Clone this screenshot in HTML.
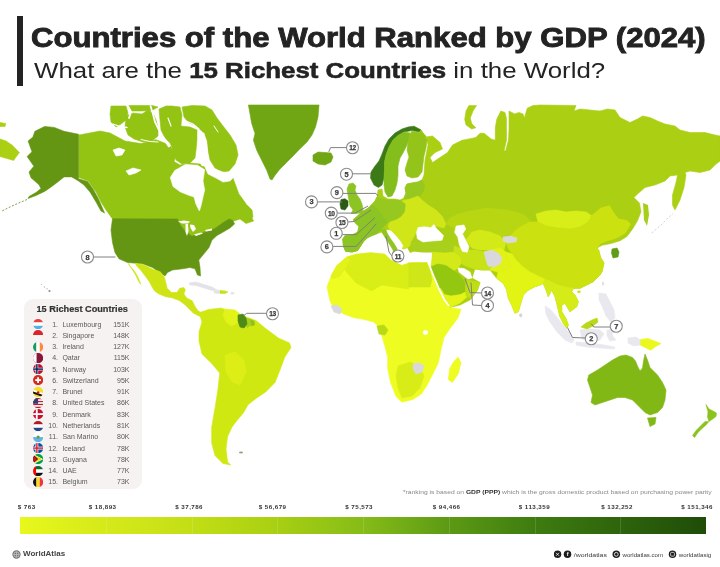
<!DOCTYPE html>
<html><head><meta charset="utf-8">
<style>
html,body{margin:0;padding:0}
body{width:720px;height:567px;overflow:hidden;background:#fff;position:relative;font-family:"Liberation Sans",Arial,sans-serif;color:#222}
.abs{position:absolute}
#vbar{left:17px;top:16px;width:5.5px;height:70px;background:#232323}
#t1{left:31px;top:20.5px;transform:scaleX(1.111);transform-origin:0 0;font-size:28px;font-weight:bold;white-space:nowrap;line-height:34px;color:#232323;-webkit-text-stroke:0.9px #232323;letter-spacing:0px}
#t2{left:34px;top:58.3px;transform:scaleX(1.1746);transform-origin:0 0;font-size:22px;white-space:nowrap;line-height:26px;color:#232323}
#t2 b{-webkit-text-stroke:0.55px #232323}
#map{left:0;top:0}
#legend{left:23.5px;top:298.5px;width:118px;height:190px;background:#f5f2f1;border-radius:9px}
#legend .hd{position:absolute;left:13px;top:5.7px;font-size:9.2px;font-weight:bold;color:#333;-webkit-text-stroke:0.2px #333;white-space:nowrap}
#legend .row{position:absolute;left:0;width:117px;height:11px;font-size:7px;color:#5a5a5a;line-height:11px}
#legend .row .n{position:absolute;left:23.5px;width:11px;text-align:right}
#legend .row .c{position:absolute;left:38.9px}
#legend .row .v{position:absolute;right:11px}
#legend .row svg{position:absolute;left:9.2px;top:0.6px}
#scale{left:20px;top:517px;width:686px;height:16.5px;background:linear-gradient(90deg,#e8f81c 0%,#d8ec1a 10%,#cde418 19%,#bcdb14 28%,#a9d012 37%,#86bc18 50%,#5c9a14 62.5%,#3e7c10 75%,#2e640c 87.5%,#1f4c08 100%)}
.lab{position:absolute;top:503px;font-size:6.2px;font-weight:bold;color:#333;white-space:nowrap;letter-spacing:0.45px}
#note{left:402.5px;top:488px;font-size:6.2px;transform:scaleX(1.088);transform-origin:0 0;color:#888;white-space:nowrap}
#note b{color:#333}
#wa{left:12px;top:548.5px;font-size:8px;font-weight:bold;color:#444;white-space:nowrap}
#soc{left:554px;top:549.5px;width:160px;height:9px}
</style></head><body>
<svg id="map" class="abs" width="720" height="567" viewBox="0 0 720 567">
<!-- MAP -->
<g stroke-width="0.6" stroke-linejoin="round"><path fill="#93c414" stroke="#93c414" d="M79,135 100,131 110,133 125,141 141,143.6 156,139.7 169,144.8 176.7,153.8 174,161.5 180,165 190,163 200,164 206,168 212,174 220,176 228,176 233,178 238.8,193.8 246,203.7 248.6,211 253.6,221 246,223.5 240,219 234,221 230,219.5 226,221 220,225 214,229 208,231 200,234 192,236 186,232 181,226 177.5,219 112.5,219 106,210 101,202 96,192 88,181 79,177.5Z"/>
<path fill="#93c414" stroke="#93c414" d="M241,208 247,205 252,210 253,217 248,219 243,214Z"/>
<path fill="#93c414" stroke="#93c414" d="M111,106 126,106 128,113 126,120 121,124 116,127 111,122 110,114Z"/>
<path fill="#93c414" stroke="#93c414" d="M126,116 133,113 142,114 148,110 153,113 156,120 158,128 158,136 152,141 143,142 134,139 128,135 125,127Z"/>
<path fill="#93c414" stroke="#93c414" d="M128,105.5 140,105.5 152,105.5 158,107 152,110.5 142,111 132,111Z"/>
<path fill="#93c414" stroke="#93c414" d="M159,109 166,106 172,106 180,107 182,115 181,125 183,135 182,145 178,151 173,149 170,143 165,138 161,130 160,120Z"/>
<path fill="#93c414" stroke="#93c414" d="M172,128 180,126 190,127 197,130 197,140 196,150 195,158 190,163 182,164 176,160 173,150 170,140Z"/>
<path fill="#93c414" stroke="#93c414" d="M182,107 192,105.5 205,106 212,110 217,118 223,126 230,135 236,145 238,155 235,164 229,171 222,172 215,168 210,160 208,150 207,140 203,132 196,126 188,122 184,117Z"/>
<path fill="#ffffff" stroke="#ffffff" d="M174.7,170.6 185.3,164.4 197.6,165.3 204.7,169.7 203,181 204.7,190 203,197 201,205.8 199.4,211 195.9,204 194,197 188.8,195.3 180,191.7 173,186.4 170.3,177.6Z"/>
<path fill="#ffffff" stroke="#ffffff" d="M205,167 212,168 220,171 228,174 233,178 230,181 223,182 216,178 208,174Z"/>
<path fill="#ffffff" stroke="#ffffff" d="M198,133 204,133 207,145 208,158 206,165 202,166 199,158 198,145Z"/>
<path fill="#ffffff" stroke="#ffffff" d="M113,150 119,148 125,150 122,155 116,156Z"/>
<path fill="#ffffff" stroke="#ffffff" d="M126,171 133,168 141,170 136,173 129,175Z"/>
<path fill="#649614" stroke="#649614" d="M34.9,131.3 44.6,126.5 54.3,127.4 64,131.3 78.5,134.2 78.5,178.8 87.5,181.5 93,189 98,198 102,207 104.5,213 101,211 96,202 90,192 84,185 78.5,181 71.7,176.9 64,176.9 58.1,181.7 50.4,187.5 44.6,191.4 36,195.5 28,198.5 29,196.5 36,192.5 41,188.5 38.8,184.6 31,177.8 29,172 33.9,166.2 27.1,156.5 32,151.7 28.1,141 32.9,137.1Z"/>
<path fill="#649614" stroke="#649614" d="M112.5,218.8 177.5,219 181,226 186,232 192,236 200,234 208,231 214,229 219,225.5 224,222 229,219 233,220.5 234.5,224 230,228 224,231.5 217,235.5 212,240 209,247.5 205,252.5 198.8,260 200,267.5 200.5,276 197.5,275 195,268.8 190,267.5 182.5,268.8 172.5,270 167.5,272.5 165,276 160,272.5 152.5,267.5 142.5,263.8 127.5,262.5 119,258.8 115,252.5 112.5,242.5 111,230Z"/>
<path fill="#cfe414" stroke="#cfe414" d="M135.3,263.3 143.6,264.7 152,268.9 156,270.3 160.3,271.7 164.4,277.2 165.8,282.8 167.2,288.3 171.4,292.5 177,292.5 179.7,288.3 183.9,287.6 185.3,289.7 183.9,293.9 186.7,298 192.2,300.8 195,306.4 197.8,310.6 202,313.3 206,314.7 204.7,316.8 199.2,316.1 193.6,313.3 189.4,309.2 185.3,305 179.7,300.8 172.8,298 165.8,296.7 158.9,293.9 154.7,291.1 152,287 149.2,281.4 145,275.8 140.8,270.3 136.7,266.1Z"/>
<path fill="#cfe414" stroke="#cfe414" d="M128.3,263.3 131,267.5 135.3,274.4 139.4,282.8 140.8,284.2 138,277.2 133.9,270.3 129.7,266.1Z"/>
<path fill="#e2e2e8" stroke="#e2e2e8" d="M189,283 196,282 204,284.5 212,287 217,290 212,290.5 204,288 196,285.5 190,285Z"/>
<path fill="#e2e2e8" stroke="#e2e2e8" d="M214,291 218,290 220,291 219,293.5 214,293Z"/>
<path fill="#c8e018" stroke="#c8e018" d="M220,290.5 225,291 228,292 225,293.5 220,293.5Z"/>
<path fill="#e2e2e8" stroke="#e2e2e8" d="M231,292.5 234,292.5 234,294 231,294Z"/>
<path fill="#70a614" stroke="#70a614" d="M248.4,105 319,105 318,117 315.5,127 312,135 307,142 300,148.7 293.6,155.4 287,162 280,169 274.5,176 272,180 270,179 266.8,170.5 261.8,160.4 256.8,150.4 253.4,140.3 255,133.6 251.7,123.5Z"/>
<path fill="#70a614" stroke="#70a614" d="M313,155 318,152 325,152.5 331,153 333,157 331,162 325,165 318,164 313,161Z"/>
<path fill="#d0e812" stroke="#d0e812" d="M199,312.7 208.6,309.5 221,308 234,312.7 243.5,316 256,320.6 265.7,328.6 278.4,338 289.5,342.9 291,347.6 284.8,357 280,370 275,382.5 265.7,392 256,398.4 248,404.8 243.5,412.7 237,420.6 232,427 227.6,436.5 226,449 227.6,462 230.8,465 222.9,463.5 215,455.6 211.7,443 211.7,427 215,408 218,389 219.7,373 211.7,363.5 202,354 199,341 199,331.7 202,322Z"/>
<path fill="#e2f31a" stroke="#e2f31a" d="M225,309 235,310 240,314 238,322 232,326 226,322 223,315Z"/>
<path fill="#dcee16" stroke="#dcee16" d="M225,355 235,352 244,360 246,372 240,385 232,382 226,372Z"/>
<path fill="#a8d018" stroke="#a8d018" d="M245.5,318 250,319 251,325 247,327.5 245,324Z"/>
<path fill="#8cc21e" stroke="#8cc21e" d="M250.5,319.5 254,321 254.5,325 251.5,326Z"/>
<path fill="#4d8a18" stroke="#4d8a18" d="M238,315 243,314 246,318 247,324 244,328 240,327 238,321Z"/>
<path fill="#abcf13" stroke="#abcf13" d="M413.8,126.2 421,130 422.5,137.5 432.5,136 440,142.5 442.5,149 435,152.5 430,157.5 432.5,162.5 440,157.5 447.5,152.5 452.5,145 462,140.3 468.9,138.9 475.8,137.5 480,133.3 484.2,133.3 491,138.9 495.3,140.3 495.3,127.8 496.7,119.4 500.8,111 505,112.5 506.4,118 506.5,130 506.5,140 504,151 505.5,151 508.5,140 509,130 509,111 514.7,113.9 518.9,112.5 523,113.9 524.4,118 527.2,108.3 532.8,105.6 540,105 576,105.5 574,111 580,109 590,110 600,111 607.5,109 615,110 620,117.5 625,120 630,122.5 637.5,119 642.5,116 650,117.5 657.5,121 665,124 675,126 680,130 690,132.5 697.5,132.5 705,132.5 715,135 720,136 720,161 715,165 710,170 700,172.5 690,171 685,172.5 686,175 684,187.5 680,200 675,210 672.5,205 672.5,195 676,182.5 677.5,175 670,176 665,181 655,185 645,187.5 637.5,194 634,197.6 639.4,203 641,211.7 637.6,220.6 632.3,229.4 627,236.4 620,240.8 611,243.5 602,245.3 597,248 598.8,250.5 600.6,257.6 604,263 602,271.7 600,275 593.3,281.7 586.7,285 580,288.3 573.3,288.3 571.7,291.7 575,295 578.3,301.7 576.7,306.7 570,311.7 565,303.3 561.7,305 561.7,311.7 565.8,318.3 568.3,325 566.7,328.3 563.3,323.3 560,316.7 558.3,310 556.7,303.3 555,296.7 551.7,290 548.3,296.7 546.7,291.7 543.3,283.3 540,285 535,286.7 528.3,290 523.3,295 520.8,303.3 518.3,311.7 515,313.3 511.7,305 508.3,298.3 506.7,290 503.3,283.3 496.7,278.3 490,270 482,270 475,269 472,278 480,282.5 477.5,290 470,300 460,305 450,307.5 445,305 440,295 435,282 431,269 432.5,262 432.5,252 425,252 415,251 410,252.5 407.5,247.5 403,249 401.3,244.9 398.5,240.6 394.2,236.4 390,230.8 385.8,229.4 387.2,233.6 390,239.2 394.2,244.9 397,250.5 395.6,254.8 392.8,253.3 394.2,249.1 391.4,244.9 388.6,240.6 384.4,235 381.5,232.2 377.3,233.6 371.7,235.7 367.4,237.8 363.2,242 360.4,246.3 357.6,250.5 352,252 345.6,251.2 343.5,246.3 342.8,239.2 344.9,235.7 352,235 357.6,232.2 359,226.5 354.7,222.3 353.3,219.5 357.6,216 361.8,211.7 366,209.6 368.9,207.5 371.7,204.7 375,201 377,197 378,190 382,189 383,196 388,199 395,199 400,200 404,198 406,193 405,188 407,184 412,183 418,182 422,180 424,175 425,160 428,145 426,136Z"/>
<path fill="#abcf13" stroke="#abcf13" d="M468.9,105.6 476.5,105.6 473,111 470.3,118 471.7,123.6 475.8,127.8 471.7,129 466,125 464.7,119.4 466,111Z"/>
<path fill="#3c7a18" stroke="#3c7a18" d="M413.8,126.2 421,130 419,132 412,130.5 404,132 398,135.5 393,140 389,147 386,155 384.5,162 384.5,170 384,178 382,185 378.5,187.5 374,185 370.5,178 371,172 375,166 379,161 382,154 385,146 389,139 395,133 402,129 408,127Z"/>
<path fill="#84be1c" stroke="#84be1c" d="M384.5,162 386,155 389,147 393,140 398,135.5 404,132 410,133 409,140 406,147 403,153 400,158 398,166 398,175 397,183 395,190 392,196 388,197 385,192 384,185 384,178 384.5,170Z"/>
<path fill="#94c41a" stroke="#94c41a" d="M410,134 412,131 419,132.5 421,130 424,134 427,140 426,148 424,156 423,164 422,172 418,177 412,178 407,176 405,170 407,163 409,157 407,150 408,142Z"/>
<path fill="#8cc424" stroke="#8cc424" d="M349,184 353,183 356,186 355,190 357,195 360,199 362,204 363,209 362,212.5 357,213.5 351,213.5 353,210 350,206 349,201 348,195 347,189Z"/>
<path fill="#2b5a14" stroke="#2b5a14" d="M341,199.5 345,198.8 348,201 348,206 345,210 341,209 340,204Z"/>
<path fill="#96c820" stroke="#96c820" d="M404,198 406,193 405,188 407,184 412,183 418,182 422,180 425,186 423,192 419,197 410,200Z"/>
<path fill="#96c820" stroke="#96c820" d="M375,201 377,197 382,199 388,200 395,200 402,201 406,204 405,212 401,217 396,220 390,222 384,222 378,216 372,210 371.7,204.7Z"/>
<path fill="#8cc424" stroke="#8cc424" d="M371.7,204.7 378,210 384,218 388,222 384,226 381.5,229 377.3,233.6 371.7,235.7 367.4,237.8 363.2,242 360.4,246.3 357.6,250.5 352,252 345.6,251.2 343.5,246.3 342.8,239.2 344.9,235.7 352,235 357.6,232.2 359,226.5 354.7,222.3 353.3,219.5 357.6,216 361.8,211.7 366,209.6 368.9,207.5Z"/>
<path fill="#8cc424" stroke="#8cc424" d="M344.9,236.5 352,236 358,236 362,238 363.2,242 360.4,246.3 357.6,250.5 352,252 345.6,251.2 343.5,246.3 342.8,239.2Z"/>
<path fill="#d0e618" stroke="#d0e618" d="M402,201 410,199 418,196 422,200 428,205 436,210 442,216 446,224 444,228 436,226 428,227 420,228 416,233 412,240 410,246 407.5,247.5 403,249 401.3,244.9 398.5,240.6 394.2,236.4 390,230.8 388,226 390,222 396,220 401,217 405,212 406,204Z"/>
<path fill="#a8d01c" stroke="#a8d01c" d="M411.7,241 420,240.5 428,241.5 436,241 444,240 450,242 454,246 453.7,252 445,253 436,252 428,252 420,252 414,251 410.5,247Z"/>
<path fill="#ffffff" stroke="#ffffff" d="M387.5,230 391,231 396,236 400,241 403,246 401.5,248.5 397,244.5 392,238.5 388,233.5Z"/>
<path fill="#90c420" stroke="#90c420" d="M381.5,230 385,229 387,233 390,238 394,243.5 397,248.5 396.5,253 394,254 393,250 390,245 386,239 383,234Z"/>
<path fill="#d4ea18" stroke="#d4ea18" d="M432.5,252 445,253 454,252 460,256 462,262 458,268 453.7,270.7 445.7,265.4 437.8,264 431,266.8 432,258Z"/>
<path fill="#c8e218" stroke="#c8e218" d="M454,246 460,248 468,250 476,250 484,252 490,258 492,266 490,270 482,270 475,269 468,267 462,264 460,256 454,252Z"/>
<path fill="#94c810" stroke="#94c810" d="M431,266.8 437.8,264 445.7,265.4 453.7,270.7 459,274.7 463,280 465.6,285.3 465.6,292 460.3,294.6 451,296 444.4,294.6 440.4,288 436.5,278.7 432.5,272Z"/>
<path fill="#e4f418" stroke="#e4f418" d="M440.4,288 444.4,294.6 451,296 460.3,294.6 465.6,292 468,296 460,303 450,307.5 445,305 441,296Z"/>
<path fill="#c0de14" stroke="#c0de14" d="M465.6,285.3 467,280 472,281 480,282.5 477.5,290 471,298 466,296 465.6,292Z"/>
<path fill="#b8d612" stroke="#b8d612" d="M446,224 450,218 458,214 466,212 476,210 486,208 496,209 506,210 516,212 524,215 530,220 528,228 520,232 512,234 504,236 496,238 490,242 484,244 476,246 470,246 466,240 460,232 454,228Z"/>
<path fill="#d4ea18" stroke="#d4ea18" d="M466,240 472,232 480,230 490,232 500,236 506,242 504,250 496,252 488,250 480,250 472,248Z"/>
<path fill="#e0f218" stroke="#e0f218" d="M484,252 492,250 500,248 506,252 508,260 512,266 505,270 498,272 490,270 492,266 490,258Z"/>
<path fill="#d8ee18" stroke="#d8ee18" d="M536,214 546,211 556,210 566,212 576,211 586,212 592,216 588,222 580,227 570,229 558,228 546,226 538,222Z"/>
<path fill="#cce210" stroke="#cce210" d="M516,230 522,226 530,222 538,222 546,226 558,228 570,229 580,227 588,222 592,216 590,217 600.6,208.2 609.4,205.6 613,211.7 618.2,218.8 627,220.6 630.6,224 625.3,233 616.5,238 607.6,240.8 600.6,243.5 597,248 598.8,250.5 600.6,257.6 604,263 602,271.7 600,275 593.3,281.7 586.7,285 580,288.3 573.3,288.3 566,287 558,285 552,282 545,279 538,276 530,272 522,266 516,260 512,254 508,248 506,242 510,236Z"/>
<path fill="#e2f414" stroke="#e2f414" d="M506,252 512,254 516,260 522,266 530,272 538,276 545,279 543.3,283.3 540,285 535,286.7 528.3,290 523.3,295 520.8,303.3 518.3,311.7 515,313.3 511.7,305 508.3,298.3 506.7,290 503.3,283.3 496.7,278.3 498,272 505,270 512,266 508,260Z"/>
<path fill="#d6ec18" stroke="#d6ec18" d="M545,279 552,282 558,285 566,287 573.3,288.3 571.7,291.7 575,295 578.3,301.7 576.7,306.7 570,311.7 565,303.3 561.7,305 561.7,311.7 565.8,318.3 568.3,325 566.7,328.3 563.3,323.3 560,316.7 558.3,310 556.7,303.3 555,296.7 551.7,290 548.3,296.7 546.7,291.7 543.3,283.3Z"/>
<path fill="#d9d9dd" stroke="#d9d9dd" d="M484,252 492,250 498,253 502,258 500,264 494,267 488,266 486,260Z"/>
<path fill="#d9d9dd" stroke="#d9d9dd" d="M503,237 510,236 517,238 516,242 508,243 503,241Z"/>
<path fill="#5e9c1a" stroke="#5e9c1a" d="M612,249 617,248 619,252 618,257 613,258 611.5,253Z"/>
<path fill="#ffffff" stroke="#ffffff" d="M418,227.6 424.4,226.8 430.8,227.6 434,224.5 436,228 438.7,230.8 443.5,235.5 442,240.3 432.4,241 422.9,242 417.3,238.7 416.5,232.4Z"/>
<path fill="#ffffff" stroke="#ffffff" d="M456.2,226 464,225 465.7,229 462.5,234 465.7,240.3 469,246.7 467.3,252.2 462.5,251.4 459.4,245 457.8,237 454.6,232.4Z"/>
<path fill="#ffffff" stroke="#ffffff" d="M458,268 464,268.5 470,272 472,278 468,279 464,276 459,272Z"/>
<path fill="#eefc21" stroke="#eefc21" d="M346.8,257 356.7,254.2 370.7,252.8 384.8,254.2 390.5,259.9 401.8,265.5 413,262.7 427,262.7 432.8,275.4 438.4,289.5 444,300.7 449.7,307.8 461,309.2 458.1,317.7 449.7,329 444,337.4 441.2,348.7 438.4,362.8 432.8,374 427,385.3 421.5,393.8 413,399.4 401.8,402.2 396.1,396.6 390.5,382.5 387.7,368.4 387.7,357.1 384.8,345.9 380.6,331.8 377.8,326.1 373.6,321.9 362.3,319.1 353.8,317.7 342.6,313.4 334.1,309.2 329.9,300.7 327,286.7 331.3,275.4 336.9,265.5Z"/>
<path fill="#d9ee16" stroke="#d9ee16" d="M346.8,257 356.7,254.2 370.7,252.8 384.8,254.2 390.5,259.9 401.8,265.5 408.7,263 408.7,289 395,287 381.4,285 371.7,291 356,283 344.5,269.5Z"/>
<path fill="#cfe618" stroke="#cfe618" d="M408.7,262.7 427,262.7 430,270 432,280 430,287 408.7,287Z"/>
<path fill="#e2f21a" stroke="#e2f21a" d="M336.9,265.5 346.8,257 350,260 344.5,269.5 340,276 332,279 331.3,275.4Z"/>
<path fill="#d8ec18" stroke="#d8ec18" d="M398,366 410,362 420,366 424,376 420,388 412,396 402,398 398,388 396,376Z"/>
<path fill="#b8d818" stroke="#b8d818" d="M377,326 384,325 388,330 385,335 379,334Z"/>
<path fill="#d9d9dd" stroke="#d9d9dd" d="M331,306 337,305 342,309 340,314 334,312Z"/>
<path fill="#d9d9dd" stroke="#d9d9dd" d="M413,364 419,362.8 424,366 422,372 416,374 413,369Z"/>
<path fill="#eefc21" stroke="#eefc21" d="M458.1,357.1 461,362.8 458.1,374 452.5,382.5 448.3,379.7 449.7,368.4 453.9,361.4Z"/>
<path fill="#82b816" stroke="#82b816" d="M588.8,375 597.5,370 605,365 612.5,360 620,356 626,355 632.5,357.5 635.5,361 637.5,366 640,371 642.5,368 643.5,361 645,354 647.5,360 650,367.5 657.5,375 662.5,382.5 666,390 665,400 662.5,407.5 657.5,412.5 650,415 645,412.5 640,407.5 635,402.5 632.5,400 625,397.5 617.5,397.5 610,400 602.5,402.5 595,405 591,402.5 592.5,395 590,387.5 587.5,380Z"/>
<path fill="#82b816" stroke="#82b816" d="M647.5,418 656,417.5 655,424 650,426.5Z"/>
<path fill="#8cc21e" stroke="#8cc21e" d="M706,404.5 709,409 713,411 716.5,413 716,416.5 712,419.5 709,421.5 707.5,417 708,412Z"/>
<path fill="#8cc21e" stroke="#8cc21e" d="M708.8,421.7 706,425 702,428.5 698,432.5 694.5,437.5 692.5,435.5 696.5,430 701,425.5 705,421.5Z"/>
<path fill="#eaf81c" stroke="#eaf81c" d="M640,339.7 648,338.4 654.5,341 661,343.6 656,346.3 650.6,350.3 645.3,347.6 640,345Z"/>
<path fill="#e8e8ee" stroke="#e8e8ee" d="M628,338 636,337 640,339.7 640,345 634,346 628,343Z"/>
<path fill="#e8e8ee" stroke="#e8e8ee" d="M545,306 550,309 556,316 563,325 570,333 574,340 572,343 565,340 557,332 550,322 546,314Z"/>
<path fill="#e8e8ee" stroke="#e8e8ee" d="M576,342 590,343 604,345 615,347 614,349 600,348 586,347 576,345Z"/>
<path fill="#e8e8ee" stroke="#e8e8ee" d="M580,330 590,329 600,330 604,334 600,340 590,342 582,339Z"/>
<path fill="#e8e8ee" stroke="#e8e8ee" d="M607,330 614,329 612,335 616,340 610,341 607,336Z"/>
<path fill="#e8e8ee" stroke="#e8e8ee" d="M599,293 606,294 610,302 614,310 615,318 611,322 606,316 602,306 599,300Z"/>
<path fill="#b8d818" stroke="#b8d818" d="M581,327 586,323 592,320 597,318 598,322 593,326 587,329Z"/>
<path fill="#abcf13" stroke="#abcf13" d="M0,139 6,141 12,145 19.4,152.6 16,157 13.6,160.4 7,158.5 0,156.5Z"/>
<path fill="#abcf13" stroke="#abcf13" d="M0,122.6 5.8,123.5 5,126.5 0,126.5Z"/></g>
<g fill="#fff"><path d="M178,221.5 L184,220.5 L190,221.5 L188,223.5 L182,223.5Z"/><path d="M185.5,224 L188,224 L188.5,231 L187,236 L185.5,232Z"/><path d="M190,224.5 L194,225 L196,229 L193,232 L190.5,228Z"/><path d="M194,234.5 L201,232.5 L203,233.5 L196,236Z"/><path d="M205,230 L212,228.5 L212,230.5 L206,231.5Z"/></g>
<path d="M428.5,263 L434,277 L439.5,290 L444.5,300 L449,306" fill="none" stroke="#fff" stroke-width="1.8"/>
<ellipse cx="425.5" cy="332.5" rx="2.6" ry="2.3" fill="#fff"/>
<g fill="#b8b8c0"><circle cx="41.5" cy="284.5" r="0.6"/><circle cx="44.5" cy="287" r="0.7"/><circle cx="47" cy="288.8" r="0.7"/></g><circle cx="49.5" cy="291" r="1.1" fill="#8a8a90"/>
<ellipse cx="241" cy="452.5" rx="2" ry="1" fill="#9aa080"/>
<ellipse cx="520.7" cy="315.3" rx="1.5" ry="2.1" fill="#d4d4dc"/><ellipse cx="603" cy="283.5" rx="1" ry="2" fill="#dcdce4"/><ellipse cx="579" cy="291.8" rx="1.8" ry="1.3" fill="#cce210"/>
<g fill="none" stroke="#fff" stroke-linecap="round"><path d="M128,106 L131,112 L129,118" stroke-width="1.8"/><path d="M150.5,106 L153,114 L155,122 L159,130" stroke-width="1.8"/><path d="M113,124 L120,126.5 L127,127.5" stroke-width="1.3"/><path d="M160,134 L165,140 L169,146" stroke-width="2.5"/><path d="M141,139.5 L150,141.5 L158,142" stroke-width="1"/><path d="M168,118 L171,126" stroke-width="1.2"/><path d="M186,121 L193,124 L199,129" stroke-width="1.2"/><path d="M214,126 L218,132" stroke-width="1"/></g>
<path d="M27,199.5 L20,202.5 L12,206 L2,211" fill="none" stroke="#7f9f55" stroke-width="1" stroke-dasharray="2 1.6"/>
<path d="M651.7,233 L660,226 L667,219 L673,213.5" fill="none" stroke="#d0d0d8" stroke-width="1" stroke-dasharray="2 2"/>
<path d="M643,203 L648,205 L649,215 L647,226 L644,220Z" fill="#a7cf19"/>
<path d="M93.5,257 115.5,257" fill="none" stroke="#808080" stroke-width="1"/>
<path d="M346.9,147.6 330.6,147.6 328.75,151.9" fill="none" stroke="#808080" stroke-width="1"/>
<path d="M352.5,173.8 371,173.8" fill="none" stroke="#808080" stroke-width="1"/>
<path d="M342.8,193.4 376,193.4 378,196" fill="none" stroke="#808080" stroke-width="1"/>
<path d="M317.5,201.9 342,201.9" fill="none" stroke="#808080" stroke-width="1"/>
<path d="M337.3,213.1 355,213.1 368,206" fill="none" stroke="#808080" stroke-width="1"/>
<path d="M347.9,222 354,221.5 371,210" fill="none" stroke="#808080" stroke-width="1"/>
<path d="M342.2,234.6 356.25,234.6 375,217.5" fill="none" stroke="#808080" stroke-width="1"/>
<path d="M332.9,246.4 356.25,246.4 376.25,223.75" fill="none" stroke="#808080" stroke-width="1"/>
<path d="M391.9,256 389,252 386,236" fill="none" stroke="#808080" stroke-width="1"/>
<path d="M266.5,313.3 246.7,313.3 244,315.4" fill="none" stroke="#808080" stroke-width="1"/>
<path d="M481.5,293 470,292.5 465,278.75" fill="none" stroke="#808080" stroke-width="1"/>
<path d="M481.5,305.5 472.5,305 471,282.5" fill="none" stroke="#808080" stroke-width="1"/>
<path d="M610.2,327 593.75,327 591.25,323.75" fill="none" stroke="#808080" stroke-width="1"/>
<path d="M585.2,338 572.5,337.5 567.5,327.5" fill="none" stroke="#808080" stroke-width="1"/>
<circle cx="87.5" cy="257" r="6" fill="#fff" stroke="#8c8c8c" stroke-width="1.1"/>
<text x="87.5" y="259.5" text-anchor="middle" font-family="Liberation Sans, sans-serif" font-weight="bold" font-size="7.4" letter-spacing="0" fill="#3a3a3a" stroke="#3a3a3a" stroke-width="0.25">8</text>
<circle cx="352.5" cy="147.75" r="6" fill="#fff" stroke="#8c8c8c" stroke-width="1.1"/>
<text x="352.5" y="150.25" text-anchor="middle" font-family="Liberation Sans, sans-serif" font-weight="bold" font-size="6.6" letter-spacing="-0.4" fill="#3a3a3a" stroke="#3a3a3a" stroke-width="0.25">12</text>
<circle cx="346.5" cy="174.2" r="6" fill="#fff" stroke="#8c8c8c" stroke-width="1.1"/>
<text x="346.5" y="176.7" text-anchor="middle" font-family="Liberation Sans, sans-serif" font-weight="bold" font-size="7.4" letter-spacing="0" fill="#3a3a3a" stroke="#3a3a3a" stroke-width="0.25">5</text>
<circle cx="336.9" cy="192.6" r="6" fill="#fff" stroke="#8c8c8c" stroke-width="1.1"/>
<text x="336.9" y="195.1" text-anchor="middle" font-family="Liberation Sans, sans-serif" font-weight="bold" font-size="7.4" letter-spacing="0" fill="#3a3a3a" stroke="#3a3a3a" stroke-width="0.25">9</text>
<circle cx="311.5" cy="201.9" r="6" fill="#fff" stroke="#8c8c8c" stroke-width="1.1"/>
<text x="311.5" y="204.4" text-anchor="middle" font-family="Liberation Sans, sans-serif" font-weight="bold" font-size="7.4" letter-spacing="0" fill="#3a3a3a" stroke="#3a3a3a" stroke-width="0.25">3</text>
<circle cx="331.25" cy="213.1" r="6" fill="#fff" stroke="#8c8c8c" stroke-width="1.1"/>
<text x="331.25" y="215.6" text-anchor="middle" font-family="Liberation Sans, sans-serif" font-weight="bold" font-size="6.6" letter-spacing="-0.4" fill="#3a3a3a" stroke="#3a3a3a" stroke-width="0.25">10</text>
<circle cx="341.9" cy="222.5" r="6" fill="#fff" stroke="#8c8c8c" stroke-width="1.1"/>
<text x="341.9" y="225.0" text-anchor="middle" font-family="Liberation Sans, sans-serif" font-weight="bold" font-size="6.6" letter-spacing="-0.4" fill="#3a3a3a" stroke="#3a3a3a" stroke-width="0.25">15</text>
<circle cx="336.25" cy="233.3" r="6" fill="#fff" stroke="#8c8c8c" stroke-width="1.1"/>
<text x="336.25" y="235.8" text-anchor="middle" font-family="Liberation Sans, sans-serif" font-weight="bold" font-size="7.4" letter-spacing="0" fill="#3a3a3a" stroke="#3a3a3a" stroke-width="0.25">1</text>
<circle cx="326.9" cy="246.9" r="6" fill="#fff" stroke="#8c8c8c" stroke-width="1.1"/>
<text x="326.9" y="249.4" text-anchor="middle" font-family="Liberation Sans, sans-serif" font-weight="bold" font-size="7.4" letter-spacing="0" fill="#3a3a3a" stroke="#3a3a3a" stroke-width="0.25">6</text>
<circle cx="397.9" cy="256" r="6" fill="#fff" stroke="#8c8c8c" stroke-width="1.1"/>
<text x="397.9" y="258.5" text-anchor="middle" font-family="Liberation Sans, sans-serif" font-weight="bold" font-size="6.6" letter-spacing="-0.4" fill="#3a3a3a" stroke="#3a3a3a" stroke-width="0.25">11</text>
<circle cx="272.5" cy="313.75" r="6" fill="#fff" stroke="#8c8c8c" stroke-width="1.1"/>
<text x="272.5" y="316.25" text-anchor="middle" font-family="Liberation Sans, sans-serif" font-weight="bold" font-size="6.6" letter-spacing="-0.4" fill="#3a3a3a" stroke="#3a3a3a" stroke-width="0.25">13</text>
<circle cx="487.5" cy="293" r="6" fill="#fff" stroke="#8c8c8c" stroke-width="1.1"/>
<text x="487.5" y="295.5" text-anchor="middle" font-family="Liberation Sans, sans-serif" font-weight="bold" font-size="6.6" letter-spacing="-0.4" fill="#3a3a3a" stroke="#3a3a3a" stroke-width="0.25">14</text>
<circle cx="487.5" cy="305.5" r="6" fill="#fff" stroke="#8c8c8c" stroke-width="1.1"/>
<text x="487.5" y="308.0" text-anchor="middle" font-family="Liberation Sans, sans-serif" font-weight="bold" font-size="7.4" letter-spacing="0" fill="#3a3a3a" stroke="#3a3a3a" stroke-width="0.25">4</text>
<circle cx="616.25" cy="326.25" r="6" fill="#fff" stroke="#8c8c8c" stroke-width="1.1"/>
<text x="616.25" y="328.75" text-anchor="middle" font-family="Liberation Sans, sans-serif" font-weight="bold" font-size="7.4" letter-spacing="0" fill="#3a3a3a" stroke="#3a3a3a" stroke-width="0.25">7</text>
<circle cx="591.25" cy="338.75" r="6" fill="#fff" stroke="#8c8c8c" stroke-width="1.1"/>
<text x="591.25" y="341.25" text-anchor="middle" font-family="Liberation Sans, sans-serif" font-weight="bold" font-size="7.4" letter-spacing="0" fill="#3a3a3a" stroke="#3a3a3a" stroke-width="0.25">2</text>
<!-- /MAP -->
</svg>
<div id="vbar" class="abs"></div>
<div id="t1" class="abs">Countries of the World Ranked by GDP (2024)</div>
<div id="t2" class="abs">What are the <b>15 Richest Countries</b> in the World?</div>

<div id="legend" class="abs">
<div class="hd">15 Richest Countries</div>
<div class="row" style="top:20.00px"><svg width="10.2" height="10.2" viewBox="0 0 10 10"><defs><clipPath id="fc0"><circle cx="5" cy="5" r="5"/></clipPath></defs><g clip-path="url(#fc0)"><rect x="0" y="0.00" width="10" height="3.43" fill="#e8413f"/><rect x="0" y="3.33" width="10" height="3.43" fill="#ffffff"/><rect x="0" y="6.67" width="10" height="3.43" fill="#4fb4e0"/></g></svg><span class="n">1.</span><span class="c">Luxembourg</span><span class="v">151K</span></div>
<div class="row" style="top:31.28px"><svg width="10.2" height="10.2" viewBox="0 0 10 10"><defs><clipPath id="fc1"><circle cx="5" cy="5" r="5"/></clipPath></defs><g clip-path="url(#fc1)"><rect x="0" y="0.00" width="10" height="5.10" fill="#d9262d"/><rect x="0" y="5.00" width="10" height="5.10" fill="#f4f4f4"/></g></svg><span class="n">2.</span><span class="c">Singapore</span><span class="v">148K</span></div>
<div class="row" style="top:42.56px"><svg width="10.2" height="10.2" viewBox="0 0 10 10"><defs><clipPath id="fc2"><circle cx="5" cy="5" r="5"/></clipPath></defs><g clip-path="url(#fc2)"><rect x="0.00" y="0" width="3.43" height="10" fill="#169b62"/><rect x="3.33" y="0" width="3.43" height="10" fill="#ffffff"/><rect x="6.67" y="0" width="3.43" height="10" fill="#ff883e"/></g></svg><span class="n">3.</span><span class="c">Ireland</span><span class="v">127K</span></div>
<div class="row" style="top:53.84px"><svg width="10.2" height="10.2" viewBox="0 0 10 10"><defs><clipPath id="fc3"><circle cx="5" cy="5" r="5"/></clipPath></defs><g clip-path="url(#fc3)"><rect width="10" height="10" fill="#8a1538"/><rect width="3.5" height="10" fill="#fff"/></g></svg><span class="n">4.</span><span class="c">Qatar</span><span class="v">115K</span></div>
<div class="row" style="top:65.12px"><svg width="10.2" height="10.2" viewBox="0 0 10 10"><defs><clipPath id="fc4"><circle cx="5" cy="5" r="5"/></clipPath></defs><g clip-path="url(#fc4)"><rect width="10" height="10" fill="#ba0c2f"/><rect x="2.5" width="2.6" height="10" fill="#fff"/><rect y="3.7" width="10" height="2.6" fill="#fff"/><rect x="3.1" width="1.4" height="10" fill="#00205b"/><rect y="4.3" width="10" height="1.4" fill="#00205b"/></g></svg><span class="n">5.</span><span class="c">Norway</span><span class="v">103K</span></div>
<div class="row" style="top:76.40px"><svg width="10.2" height="10.2" viewBox="0 0 10 10"><defs><clipPath id="fc5"><circle cx="5" cy="5" r="5"/></clipPath></defs><g clip-path="url(#fc5)"><rect width="10" height="10" fill="#d52b1e"/><rect x="4.1" y="2.2" width="1.8" height="5.6" fill="#fff"/><rect x="2.2" y="4.1" width="5.6" height="1.8" fill="#fff"/></g></svg><span class="n">6.</span><span class="c">Switzerland</span><span class="v">95K</span></div>
<div class="row" style="top:87.68px"><svg width="10.2" height="10.2" viewBox="0 0 10 10"><defs><clipPath id="fc6"><circle cx="5" cy="5" r="5"/></clipPath></defs><g clip-path="url(#fc6)"><rect width="10" height="10" fill="#f7e017"/><path d="M0,2.5 L10,6 L10,8 L0,4.5Z" fill="#fff"/><path d="M0,4.5 L10,8 L10,10 L0,6.5Z" fill="#111"/><circle cx="5" cy="5.5" r="1.3" fill="#cf1126"/></g></svg><span class="n">7.</span><span class="c">Brunei</span><span class="v">91K</span></div>
<div class="row" style="top:98.96px"><svg width="10.2" height="10.2" viewBox="0 0 10 10"><defs><clipPath id="fc7"><circle cx="5" cy="5" r="5"/></clipPath></defs><g clip-path="url(#fc7)"><rect x="0" y="0.00" width="10" height="1.53" fill="#b22234"/><rect x="0" y="1.43" width="10" height="1.53" fill="#fff"/><rect x="0" y="2.86" width="10" height="1.53" fill="#b22234"/><rect x="0" y="4.29" width="10" height="1.53" fill="#fff"/><rect x="0" y="5.71" width="10" height="1.53" fill="#b22234"/><rect x="0" y="7.14" width="10" height="1.53" fill="#fff"/><rect x="0" y="8.57" width="10" height="1.53" fill="#b22234"/><rect width="5" height="5.7" fill="#3c3b6e"/></g></svg><span class="n">8.</span><span class="c">United States</span><span class="v">86K</span></div>
<div class="row" style="top:110.24px"><svg width="10.2" height="10.2" viewBox="0 0 10 10"><defs><clipPath id="fc8"><circle cx="5" cy="5" r="5"/></clipPath></defs><g clip-path="url(#fc8)"><rect width="10" height="10" fill="#c8102e"/><rect x="2.8" width="1.8" height="10" fill="#fff"/><rect y="4.1" width="10" height="1.8" fill="#fff"/></g></svg><span class="n">9.</span><span class="c">Denmark</span><span class="v">83K</span></div>
<div class="row" style="top:121.52px"><svg width="10.2" height="10.2" viewBox="0 0 10 10"><defs><clipPath id="fc9"><circle cx="5" cy="5" r="5"/></clipPath></defs><g clip-path="url(#fc9)"><rect x="0" y="0.00" width="10" height="3.43" fill="#ae1c28"/><rect x="0" y="3.33" width="10" height="3.43" fill="#ffffff"/><rect x="0" y="6.67" width="10" height="3.43" fill="#21468b"/></g></svg><span class="n">10.</span><span class="c">Netherlands</span><span class="v">81K</span></div>
<div class="row" style="top:132.80px"><svg width="10.2" height="10.2" viewBox="0 0 10 10"><defs><clipPath id="fc10"><circle cx="5" cy="5" r="5"/></clipPath></defs><g clip-path="url(#fc10)"><rect x="0" y="0.00" width="10" height="5.10" fill="#ffffff"/><rect x="0" y="5.00" width="10" height="5.10" fill="#5eb6e4"/><circle cx="5" cy="5" r="1.6" fill="#6a9a4a"/></g></svg><span class="n">11.</span><span class="c">San Marino</span><span class="v">80K</span></div>
<div class="row" style="top:144.08px"><svg width="10.2" height="10.2" viewBox="0 0 10 10"><defs><clipPath id="fc11"><circle cx="5" cy="5" r="5"/></clipPath></defs><g clip-path="url(#fc11)"><rect width="10" height="10" fill="#02529c"/><rect x="2.4" width="2.8" height="10" fill="#fff"/><rect y="3.6" width="10" height="2.8" fill="#fff"/><rect x="3.1" width="1.4" height="10" fill="#dc1e35"/><rect y="4.3" width="10" height="1.4" fill="#dc1e35"/></g></svg><span class="n">12.</span><span class="c">Iceland</span><span class="v">78K</span></div>
<div class="row" style="top:155.36px"><svg width="10.2" height="10.2" viewBox="0 0 10 10"><defs><clipPath id="fc12"><circle cx="5" cy="5" r="5"/></clipPath></defs><g clip-path="url(#fc12)"><rect width="10" height="10" fill="#009e49"/><path d="M0,0 L10,5 L0,10Z" fill="#fff"/><path d="M0,0.6 L9,5 L0,9.4Z" fill="#fcd116"/><path d="M0,0.6 L5,5 L0,9.4Z" fill="#111"/><path d="M0,1.2 L4.2,5 L0,8.8Z" fill="#ce1126"/></g></svg><span class="n">13.</span><span class="c">Guyana</span><span class="v">78K</span></div>
<div class="row" style="top:166.64px"><svg width="10.2" height="10.2" viewBox="0 0 10 10"><defs><clipPath id="fc13"><circle cx="5" cy="5" r="5"/></clipPath></defs><g clip-path="url(#fc13)"><rect x="0" y="0.00" width="10" height="3.43" fill="#00732f"/><rect x="0" y="3.33" width="10" height="3.43" fill="#ffffff"/><rect x="0" y="6.67" width="10" height="3.43" fill="#111111"/><rect width="3" height="10" fill="#ff0000"/></g></svg><span class="n">14.</span><span class="c">UAE</span><span class="v">77K</span></div>
<div class="row" style="top:177.92px"><svg width="10.2" height="10.2" viewBox="0 0 10 10"><defs><clipPath id="fc14"><circle cx="5" cy="5" r="5"/></clipPath></defs><g clip-path="url(#fc14)"><rect x="0.00" y="0" width="3.43" height="10" fill="#111"/><rect x="3.33" y="0" width="3.43" height="10" fill="#fdda24"/><rect x="6.67" y="0" width="3.43" height="10" fill="#ef3340"/></g></svg><span class="n">15.</span><span class="c">Belgium</span><span class="v">73K</span></div>
</div>

<div id="scale" class="abs"><div style="position:absolute;left:85.75px;top:0;width:0.8px;height:16.5px;background:rgba(255,255,255,0.13)"></div><div style="position:absolute;left:171.50px;top:0;width:0.8px;height:16.5px;background:rgba(255,255,255,0.13)"></div><div style="position:absolute;left:257.25px;top:0;width:0.8px;height:16.5px;background:rgba(255,255,255,0.13)"></div><div style="position:absolute;left:343.00px;top:0;width:0.8px;height:16.5px;background:rgba(255,255,255,0.13)"></div><div style="position:absolute;left:428.75px;top:0;width:0.8px;height:16.5px;background:rgba(255,255,255,0.13)"></div><div style="position:absolute;left:514.50px;top:0;width:0.8px;height:16.5px;background:rgba(255,255,255,0.13)"></div><div style="position:absolute;left:600.25px;top:0;width:0.8px;height:16.5px;background:rgba(255,255,255,0.13)"></div></div>
<div class="lab" style="left:17.8px">$ 763</div>
<div class="lab" style="left:88.8px">$ 18,893</div>
<div class="lab" style="left:175.3px">$ 37,786</div>
<div class="lab" style="left:258.8px">$ 56,679</div>
<div class="lab" style="left:345.3px">$ 75,573</div>
<div class="lab" style="left:432.8px">$ 94,466</div>
<div class="lab" style="left:518.8px">$ 113,359</div>
<div class="lab" style="left:601.3px">$ 132,252</div>
<div class="lab" style="left:681.3px">$ 151,346</div>
<div id="note" class="abs">*ranking is based on <b>GDP (PPP)</b> which is the gross domestic product based on purchasing power parity</div>
<div id="wa" class="abs"><svg width="9" height="9" viewBox="0 0 10 10" style="position:absolute;left:0;top:1px"><circle cx="5" cy="5" r="4.6" fill="#777"/><circle cx="5" cy="5" r="3" fill="none" stroke="#ddd" stroke-width="0.7"/><path d="M2,5 H8 M5,2 V8" stroke="#ddd" stroke-width="0.6"/></svg><span style="position:absolute;left:11px;top:0;">WorldAtlas</span></div>
<div id="soc" class="abs"><svg width="160" height="9" viewBox="0 0 160 9" style="position:absolute;left:0;top:0">
<circle cx="3.5" cy="4.3" r="3.75" fill="#1e1e1e"/><circle cx="13.5" cy="4.3" r="3.75" fill="#1e1e1e"/>
<circle cx="62.3" cy="4.3" r="3.75" fill="#1e1e1e"/><circle cx="118.5" cy="4.3" r="3.75" fill="#1e1e1e"/>
<path d="M2,2.8 L5,5.8 M5,2.8 L2,5.8" stroke="#fff" stroke-width="0.8"/>
<text x="13.6" y="6.4" text-anchor="middle" font-size="5.6" font-weight="bold" fill="#fff" font-family="Liberation Sans">f</text>
<circle cx="62.3" cy="4.3" r="1.9" fill="none" stroke="#fff" stroke-width="0.8"/>
<rect x="116.6" y="2.4" width="3.8" height="3.8" rx="1" fill="none" stroke="#fff" stroke-width="0.7"/>
<text x="19.75" y="6.5" font-size="6" fill="#3a3a3a" font-family="Liberation Sans" textLength="33.2" lengthAdjust="spacingAndGlyphs">/worldatlas</text>
<text x="68.5" y="6.5" font-size="6" fill="#3a3a3a" font-family="Liberation Sans" textLength="40.5" lengthAdjust="spacingAndGlyphs">worldatlas.com</text>
<text x="124.75" y="6.5" font-size="6" fill="#3a3a3a" font-family="Liberation Sans" textLength="32.5" lengthAdjust="spacingAndGlyphs">worldatlasig</text>
</svg></div>
</body></html>
